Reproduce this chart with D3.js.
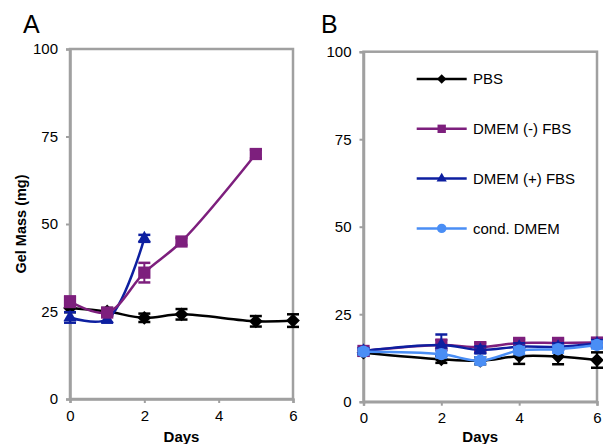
<!DOCTYPE html>
<html>
<head>
<meta charset="utf-8">
<script src="https://cdn.jsdelivr.net/npm/d3@7"></script>
<style>
  body { margin: 0; background: #fff; }
  svg { display: block; font-family: "Liberation Sans", Arial, sans-serif; }
</style>
</head>
<body>
<div class="chart"></div>
<script>
// Series names and colours
const seriesNames = ["PBS", "DMEM (-) FBS", "DMEM (+) FBS", "cond. DMEM"];
const seriesColors = ["#000000", "#7d1f7d", "#0d1fa0", "#4a8ef5"];
const seriesShapes = ["diamond", "square", "triangle", "circle"];

// Panel A (days)
const daysA_pbs = [0, 1, 2, 3, 5, 6];
const valsA_pbs = [26, 25, 23.2, 24.2, 22.2, 22.4];
const errA_pbs = [1.2, 1, 1.2, 1.5, 1.5, 1.8];
const daysA_minus = [0, 1, 2, 3, 5];
const valsA_minus = [27.8, 24.7, 36.1, 45, 70];
const errA_minus = [1.5, 1, 2.8, 1, 1.2];
const daysA_plus = [0, 1, 2];
const valsA_plus = [23.3, 22.8, 45.9];
const errA_plus = [1.5, 1, 1];

// Panel B (days)
const daysB = [0, 2, 3, 4, 5, 6];
const valsB_pbs = [14, 12.1, 11.7, 13, 12.9, 11.9];
const errB_pbs = [0.8, 1, 1, 2.2, 2.2, 2.2];
const valsB_minus = [14.5, 16.2, 15.6, 16.8, 16.8, 16.9];
const errB_minus = [0.8, 1.5, 1.2, 1, 1, 1];
const valsB_plus = [14.5, 16.2, 14.8, 15.7, 15.7, 16.6];
const errB_plus = [0.8, 3, 1, 1, 1, 1];
const valsB_cond = [14.3, 13.6, 11.7, 14.6, 15, 16.2];
const errB_cond = [0.8, 1, 1, 1, 1, 1];

const yTicks = [0, 25, 50, 75, 100];
const xTicks = [0, 2, 4, 6];

const svg = d3.select("div.chart").append("svg")
  .attr("width", 603)
  .attr("height", 444);

// marker shapes (diamond = square turned 45 degrees, like Excel)
const symbolType = {
  diamond: d3.symbolSquare,
  square: d3.symbolSquare,
  triangle: d3.symbolTriangle,
  circle: d3.symbolCircle
};
const markerSize = { diamond: 95, square: 150, triangle: 75, circle: 120 };
const legendSize = { diamond: 45, square: 70, triangle: 45, circle: 70 };

function markerTransform(shape, px, py) {
  return shape === "diamond"
    ? `translate(${px},${py}) rotate(45)`
    : `translate(${px},${py})`;
}

function drawPanel(cfg) {
  const x = d3.scaleLinear().domain([0, 6]).range([cfg.left, cfg.right]);
  const y = d3.scaleLinear().domain([0, 100]).range([cfg.bottom, cfg.top]);
  const g = svg.append("g");

  // frame
  g.append("rect")
    .attr("x", cfg.left).attr("y", cfg.top)
    .attr("width", cfg.right - cfg.left).attr("height", cfg.bottom - cfg.top)
    .attr("fill", "none").attr("stroke", "#a0a0a0").attr("stroke-width", 2.5);

  const ax = g.append("g")
    .attr("transform", `translate(0,${cfg.bottom})`)
    .call(d3.axisBottom(x).tickValues(xTicks).tickFormat(d3.format("d")).tickSize(4).tickPadding(7));
  const ay = g.append("g")
    .attr("transform", `translate(${cfg.left},0)`)
    .call(d3.axisLeft(y).tickValues(yTicks).tickSize(4).tickPadding(8));
  [ax, ay].forEach(a => {
    a.select(".domain").attr("stroke", "#a0a0a0").attr("stroke-width", 2.5);
    a.selectAll(".tick line").attr("stroke", "#a0a0a0").attr("stroke-width", 2);
    a.selectAll(".tick text").attr("fill", "#000").style("font-size", "15px")
      .style("font-family", "'Liberation Sans', Arial, sans-serif");
  });

  // panel letter
  g.append("text")
    .attr("x", cfg.letterX).attr("y", 33)
    .style("font-size", "25px")
    .text(cfg.letter);

  // x title
  g.append("text")
    .attr("x", (cfg.left + cfg.right) / 2).attr("y", 442)
    .attr("text-anchor", "middle")
    .style("font-size", "15px").style("font-weight", "bold")
    .text("Days");

  const line = d3.line()
    .x(d => x(d.day)).y(d => y(d.val))
    .curve(d3.curveCatmullRom.alpha(0.5));

  cfg.series.forEach(s => {
    const pts = s.days.map((d, i) => ({ day: d, val: s.vals[i], err: s.errs[i] }));
    const color = seriesColors[s.idx];
    const shape = seriesShapes[s.idx];
    const sg = g.append("g");
    // error bars
    pts.forEach(p => {
      sg.append("line")
        .attr("x1", x(p.day)).attr("x2", x(p.day))
        .attr("y1", y(p.val - p.err)).attr("y2", y(p.val + p.err))
        .attr("stroke", color).attr("stroke-width", 2);
      [p.val - p.err, p.val + p.err].forEach(v => {
        sg.append("line")
          .attr("x1", x(p.day) - 6).attr("x2", x(p.day) + 6)
          .attr("y1", y(v)).attr("y2", y(v))
          .attr("stroke", color).attr("stroke-width", 2.5);
      });
    });
    sg.append("path")
      .datum(pts)
      .attr("d", line)
      .attr("fill", "none").attr("stroke", color).attr("stroke-width", 2.5);
    sg.selectAll("path.marker")
      .data(pts)
      .enter().append("path")
      .attr("class", "marker")
      .attr("transform", d => markerTransform(shape, x(d.day), y(d.val)))
      .attr("d", d3.symbol().type(symbolType[shape]).size(markerSize[shape]))
      .attr("fill", color);
  });
  return { x, y, g };
}

drawPanel({
  left: 70, right: 293, top: 49, bottom: 399, letter: "A", letterX: 23,
  series: [
    { idx: 0, days: daysA_pbs, vals: valsA_pbs, errs: errA_pbs },
    { idx: 2, days: daysA_plus, vals: valsA_plus, errs: errA_plus },
    { idx: 1, days: daysA_minus, vals: valsA_minus, errs: errA_minus }
  ]
});

drawPanel({
  left: 363.5, right: 597, top: 51.7, bottom: 401.7, letter: "B", letterX: 321,
  series: [
    { idx: 0, days: daysB, vals: valsB_pbs, errs: errB_pbs },
    { idx: 1, days: daysB, vals: valsB_minus, errs: errB_minus },
    { idx: 2, days: daysB, vals: valsB_plus, errs: errB_plus },
    { idx: 3, days: daysB, vals: valsB_cond, errs: errB_cond }
  ]
});

// y title
svg.append("text")
  .attr("transform", "translate(26,224) rotate(-90)")
  .attr("text-anchor", "middle")
  .style("font-size", "14.5px").style("font-weight", "bold")
  .text("Gel Mass (mg)");

// legend
const legend = svg.append("g");
seriesNames.forEach((name, i) => {
  const yy = 79 + i * 49.8;
  const shape = seriesShapes[i];
  legend.append("line")
    .attr("x1", 416.7).attr("x2", 466.7).attr("y1", yy).attr("y2", yy)
    .attr("stroke", seriesColors[i]).attr("stroke-width", 2.5);
  legend.append("path")
    .attr("transform", markerTransform(shape, 441.7, yy))
    .attr("d", d3.symbol().type(symbolType[shape]).size(legendSize[shape]))
    .attr("fill", seriesColors[i]);
  legend.append("text")
    .attr("x", 473).attr("y", yy).attr("dy", "0.35em")
    .style("font-size", "15px")
    .text(name);
});
</script>
</body>
</html>
